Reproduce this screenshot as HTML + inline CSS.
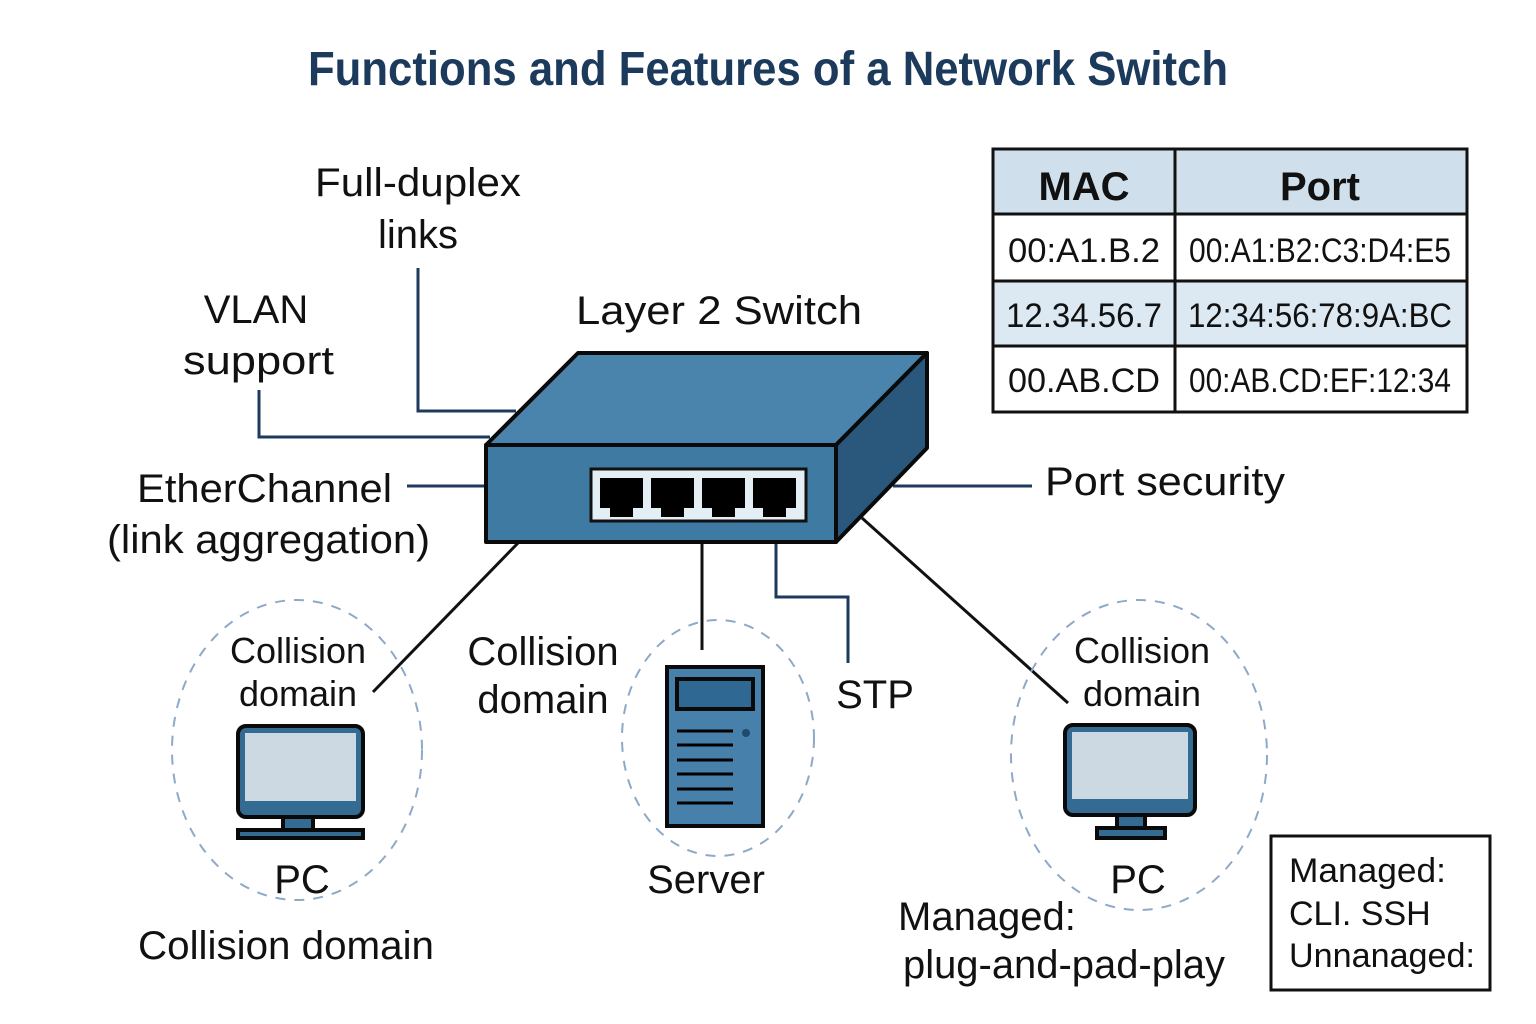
<!DOCTYPE html>
<html><head><style>
body{margin:0;background:#fff}
svg{display:block}
text{font-family:"Liberation Sans",sans-serif;fill:#111}
</style></head><body>
<svg width="1536" height="1024" viewBox="0 0 1536 1024">
<rect width="1536" height="1024" fill="#fff"/>
<text x="768" y="85" text-anchor="middle" font-size="48" font-weight="bold" style="fill:#1b3a5c" textLength="920" lengthAdjust="spacingAndGlyphs">Functions and Features of a Network Switch</text>

<g stroke="#1b3a5c" stroke-width="3" fill="none">
<polyline points="418,268 418,411 516,411"/>
<polyline points="259,390 259,437 490,437"/>
<line x1="407" y1="486" x2="486" y2="486"/>
<line x1="893" y1="486" x2="1032" y2="486"/>
<polyline points="776,543 776,597 848,597 848,663"/>
</g>
<g stroke="#111" stroke-width="3">
<line x1="518" y1="543" x2="373" y2="692"/>
<line x1="702" y1="543" x2="702" y2="650"/>
<line x1="862" y1="518" x2="1068" y2="703"/>
</g>

<g stroke="#0a0a0a" stroke-width="4" stroke-linejoin="round">
<polygon points="486,445 578,353 927,353 836,445" fill="#4a84ad"/>
<polygon points="836,445 927,353 927,448 836,542" fill="#2a587c"/>
<rect x="486" y="445" width="350" height="97" fill="#3f7aa3"/>
</g>
<rect x="591" y="469" width="215" height="52" fill="#e4eef5" stroke="#111" stroke-width="3"/>
<g fill="#000">
<path d="M600,478h43v30h-10v9h-23v-9h-10z"/>
<path d="M651,478h43v30h-10v9h-23v-9h-10z"/>
<path d="M702,478h43v30h-10v9h-23v-9h-10z"/>
<path d="M753,478h43v30h-10v9h-23v-9h-10z"/>
</g>

<g fill="none" stroke="#8ea9c8" stroke-width="2" stroke-dasharray="10,9">
<ellipse cx="297" cy="750" rx="125" ry="150"/>
<ellipse cx="718" cy="738" rx="96" ry="118"/>
<ellipse cx="1139" cy="755" rx="128" ry="155"/>
</g>

<g stroke="#0a0a0a" stroke-width="4">
<rect x="238" y="726" width="125" height="91" rx="8" fill="#336b93"/>
<rect x="245" y="733" width="111" height="68" fill="#ccd8e2" stroke="none"/>
<rect x="283" y="817" width="30" height="13" fill="#336b93"/>
<rect x="238" y="830" width="125" height="8" fill="#336b93"/>
</g>
<g stroke="#0a0a0a" stroke-width="4">
<rect x="1065" y="725" width="130" height="90" rx="8" fill="#336b93"/>
<rect x="1072" y="732" width="116" height="67" fill="#ccd8e2" stroke="none"/>
<rect x="1117" y="815" width="28" height="13" fill="#336b93"/>
<rect x="1097" y="828" width="68" height="10" fill="#336b93"/>
</g>
<g stroke="#0a0a0a" stroke-width="4">
<rect x="667" y="667" width="96" height="159" fill="#4680ab"/>
<rect x="677" y="679" width="76" height="30" fill="#2f6892"/>
</g>
<g stroke="#000" stroke-width="3">
<line x1="677" y1="731" x2="733" y2="731"/><line x1="677" y1="745" x2="733" y2="745"/>
<line x1="677" y1="760" x2="733" y2="760"/><line x1="677" y1="774" x2="733" y2="774"/>
<line x1="677" y1="789" x2="733" y2="789"/><line x1="677" y1="803" x2="733" y2="803"/>
</g>
<circle cx="746" cy="733" r="4" fill="#1e4a6e"/>

<rect x="993" y="149" width="474" height="65" fill="#cfe0ec"/>
<rect x="993" y="281" width="474" height="65" fill="#dce9f2"/>
<g stroke="#111" stroke-width="3" fill="none">
<rect x="993" y="149" width="474" height="263"/>
<line x1="1175" y1="149" x2="1175" y2="412"/>
<line x1="993" y1="214" x2="1467" y2="214"/>
<line x1="993" y1="281" x2="1467" y2="281"/>
<line x1="993" y1="346" x2="1467" y2="346"/>
</g>
<text x="1084" y="200" text-anchor="middle" font-size="40" font-weight="bold">MAC</text>
<text x="1320" y="200" text-anchor="middle" font-size="40" font-weight="bold">Port</text>
<g font-size="34" text-anchor="middle">
<text x="1084" y="262" textLength="152" lengthAdjust="spacingAndGlyphs">00:A1.B.2</text>
<text x="1320" y="262" textLength="262" lengthAdjust="spacingAndGlyphs">00:A1:B2:C3:D4:E5</text>
<text x="1084" y="327" textLength="156" lengthAdjust="spacingAndGlyphs">12.34.56.7</text>
<text x="1320" y="327" textLength="264" lengthAdjust="spacingAndGlyphs">12:34:56:78:9A:BC</text>
<text x="1084" y="392" textLength="152" lengthAdjust="spacingAndGlyphs">00.AB.CD</text>
<text x="1320" y="392" textLength="262" lengthAdjust="spacingAndGlyphs">00:AB.CD:EF:12:34</text>
</g>

<g font-size="40" lengthAdjust="spacingAndGlyphs">
<text x="315" y="196" textLength="206" lengthAdjust="spacingAndGlyphs">Full-duplex</text>
<text x="418" y="248" text-anchor="middle">links</text>
<text x="256" y="323" text-anchor="middle">VLAN</text>
<text x="183" y="374" textLength="151" lengthAdjust="spacingAndGlyphs">support</text>
<text x="576" y="324" textLength="286" lengthAdjust="spacingAndGlyphs">Layer 2 Switch</text>
<text x="137" y="502" textLength="255" lengthAdjust="spacingAndGlyphs">EtherChannel</text>
<text x="107" y="553" textLength="323" lengthAdjust="spacingAndGlyphs">(link aggregation)</text>
<text x="1045" y="495" textLength="240" lengthAdjust="spacingAndGlyphs">Port security</text>
<text x="875" y="708" text-anchor="middle">STP</text>
<text x="302" y="893" text-anchor="middle">PC</text>
<text x="706" y="893" text-anchor="middle">Server</text>
<text x="1138" y="893" text-anchor="middle">PC</text>
<text x="138" y="959" textLength="296" lengthAdjust="spacingAndGlyphs">Collision domain</text>
<text x="543" y="665" text-anchor="middle">Collision</text>
<text x="543" y="713" text-anchor="middle">domain</text>
<text x="898" y="930">Managed:</text>
<text x="903" y="978" textLength="322" lengthAdjust="spacingAndGlyphs">plug-and-pad-play</text>
</g>
<g font-size="36">
<text x="298" y="663" text-anchor="middle">Collision</text>
<text x="298" y="706" text-anchor="middle">domain</text>
<text x="1142" y="663" text-anchor="middle">Collision</text>
<text x="1142" y="706" text-anchor="middle">domain</text>
</g>

<rect x="1271" y="836" width="219" height="154" fill="none" stroke="#111" stroke-width="3"/>
<g font-size="34">
<text x="1289" y="882" textLength="157" lengthAdjust="spacingAndGlyphs">Managed:</text>
<text x="1289" y="925">CLI. SSH</text>
<text x="1289" y="967" textLength="186" lengthAdjust="spacingAndGlyphs">Unnanaged:</text>
</g>
</svg>
</body></html>
